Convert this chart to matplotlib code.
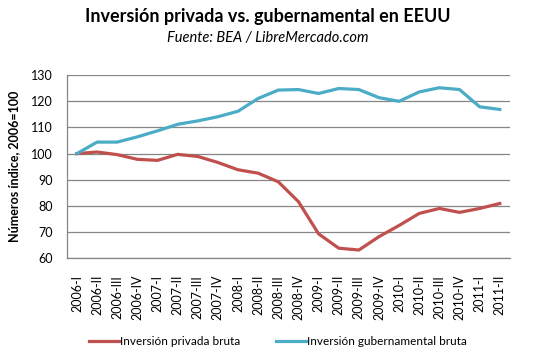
import matplotlib.pyplot as plt

# quarters on the x axis
quarters = ["2006-I", "2006-II", "2006-III", "2006-IV",
            "2007-I", "2007-II", "2007-III", "2007-IV",
            "2008-I", "2008-II", "2008-III", "2008-IV",
            "2009-I", "2009-II", "2009-III", "2009-IV",
            "2010-I", "2010-II", "2010-III", "2010-IV",
            "2011-I", "2011-II"]

# index values (2006 = 100)
privada = [100, 100.6, 99.6, 97.8, 97.4, 99.7, 98.9, 96.6, 93.8, 92.5, 89.2,
           81.6, 69.3, 63.8, 63.1, 68.2, 72.5, 77.1, 79.0, 77.5, 79.0, 80.9]
gubernamental = [100, 104.4, 104.4, 106.4, 108.7, 111.2, 112.5, 114.1, 116.2,
                 121.1, 124.3, 124.5, 123.0, 124.9, 124.5, 121.4, 120.0,
                 123.6, 125.2, 124.5, 117.9, 116.9]

plt.rcParams['font.family'] = ['Lato', 'DejaVu Sans']

fig = plt.figure(figsize=(5.35, 3.58), dpi=100)
ax = fig.add_axes([0.125, 0.279, 0.828, 0.511])

x = list(range(len(quarters)))
ax.plot(x, privada, color="#C0504D", linewidth=2.3, label="Inversión privada bruta")
ax.plot(x, gubernamental, color="#4BACC6", linewidth=2.3,
        label="Inversión gubernamental bruta")

ax.set_xlim(-0.5, len(quarters) - 0.5)
ax.set_ylim(60, 130)
ax.set_yticks(range(60, 131, 10))
ax.set_xticks(x)
ax.set_xticklabels(quarters, rotation=90, fontsize=9)
ax.tick_params(axis="y", labelsize=9, length=0, pad=10)
ax.tick_params(axis="x", length=0, pad=12)

# grid lines like the excel chart
ax.grid(axis="y", color="#868686", linewidth=0.9)
ax.set_axisbelow(True)
for side in ["top", "right"]:
    ax.spines[side].set_visible(False)
for side in ["left", "bottom"]:
    ax.spines[side].set_color("#868686")
    ax.spines[side].set_linewidth(0.9)

ax.set_ylabel("Números índice, 2006=100", fontsize=9, fontweight="bold", labelpad=8)

fig.text(0.5, 0.955, "Inversión privada vs. gubernamental en EEUU",
         ha="center", va="center", fontsize=13, fontweight="bold")
fig.text(0.5, 0.895, "Fuente: BEA / LibreMercado.com",
         ha="center", va="center", fontsize=10.5, style="italic")

fig.legend(loc="center", bbox_to_anchor=(0.52, 0.045), ncol=2, frameon=False,
           fontsize=8.5, handlelength=2.5, handletextpad=0.15, columnspacing=3.0)

fig.savefig("out.png", dpi=100)
